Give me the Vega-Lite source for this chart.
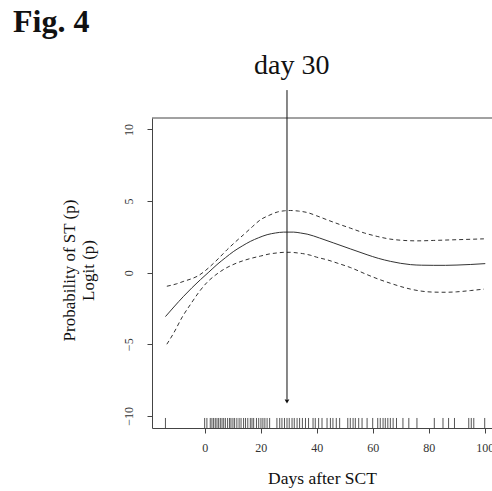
{
  "$schema": "https://vega.github.io/schema/vega-lite/v6.json",
  "width": 340,
  "height": 310,
  "autosize": {"type": "none"},
  "padding": {"left": 152, "top": 118, "right": 0, "bottom": 63},
  "background": "white",
  "config": {
    "view": {"stroke": null},
    "font": "Liberation Serif"
  },
  "title": {
    "text": "Fig. 4",
    "anchor": "start",
    "frame": "group",
    "font": "Liberation Serif",
    "fontSize": 32,
    "fontWeight": "bold",
    "color": "#111",
    "baseline": "alphabetic",
    "offset": -12,
    "dx": -139
  },
  "datasets": {
    "fit": [
      {"x": -14, "y": -3.07}, {"x": -11, "y": -2.4}, {"x": -7.5, "y": -1.65}, {"x": -4.5, "y": -1.05},
      {"x": -1.5, "y": -0.49}, {"x": 1.5, "y": 0.04}, {"x": 4.4, "y": 0.56}, {"x": 7.4, "y": 1.04},
      {"x": 10.4, "y": 1.49}, {"x": 13.4, "y": 1.86}, {"x": 16.3, "y": 2.18}, {"x": 19.3, "y": 2.44},
      {"x": 22.3, "y": 2.65}, {"x": 25.3, "y": 2.77}, {"x": 28.2, "y": 2.83}, {"x": 31.8, "y": 2.83},
      {"x": 34.2, "y": 2.77}, {"x": 36.6, "y": 2.69}, {"x": 41, "y": 2.42}, {"x": 46.1, "y": 2.07},
      {"x": 52, "y": 1.66}, {"x": 58, "y": 1.25}, {"x": 62, "y": 1.0}, {"x": 66.3, "y": 0.79},
      {"x": 70, "y": 0.65}, {"x": 73.5, "y": 0.56}, {"x": 77.5, "y": 0.52}, {"x": 81.8, "y": 0.51},
      {"x": 86, "y": 0.51}, {"x": 90.1, "y": 0.53}, {"x": 95, "y": 0.57}, {"x": 100.2, "y": 0.63}
    ],
    "bands": [
      {"band": "upper", "x": -13.5, "y": -0.95}, {"band": "upper", "x": -10, "y": -0.78},
      {"band": "upper", "x": -7.4, "y": -0.6}, {"band": "upper", "x": -5, "y": -0.45},
      {"band": "upper", "x": -2.7, "y": -0.26}, {"band": "upper", "x": 0, "y": 0.1},
      {"band": "upper", "x": 2, "y": 0.44}, {"band": "upper", "x": 5, "y": 1.0},
      {"band": "upper", "x": 8, "y": 1.6}, {"band": "upper", "x": 11, "y": 2.15},
      {"band": "upper", "x": 13.9, "y": 2.65}, {"band": "upper", "x": 17, "y": 3.2},
      {"band": "upper", "x": 19.9, "y": 3.69}, {"band": "upper", "x": 23, "y": 4.0},
      {"band": "upper", "x": 25.9, "y": 4.23}, {"band": "upper", "x": 28.5, "y": 4.32},
      {"band": "upper", "x": 30.6, "y": 4.34}, {"band": "upper", "x": 33.5, "y": 4.3},
      {"band": "upper", "x": 36.6, "y": 4.2}, {"band": "upper", "x": 40, "y": 3.97},
      {"band": "upper", "x": 43.7, "y": 3.69}, {"band": "upper", "x": 48, "y": 3.38},
      {"band": "upper", "x": 52, "y": 3.11}, {"band": "upper", "x": 57, "y": 2.77},
      {"band": "upper", "x": 61.6, "y": 2.53}, {"band": "upper", "x": 66, "y": 2.35},
      {"band": "upper", "x": 71.1, "y": 2.25}, {"band": "upper", "x": 76, "y": 2.22},
      {"band": "upper", "x": 81.8, "y": 2.25}, {"band": "upper", "x": 90, "y": 2.3},
      {"band": "upper", "x": 99.7, "y": 2.36},
      {"band": "lower", "x": -13.5, "y": -5.0}, {"band": "lower", "x": -11, "y": -4.2},
      {"band": "lower", "x": -8, "y": -3.1}, {"band": "lower", "x": -5, "y": -2.2},
      {"band": "lower", "x": -2, "y": -1.35}, {"band": "lower", "x": 1, "y": -0.65},
      {"band": "lower", "x": 4, "y": -0.15}, {"band": "lower", "x": 7, "y": 0.25},
      {"band": "lower", "x": 10, "y": 0.55}, {"band": "lower", "x": 14, "y": 0.85},
      {"band": "lower", "x": 17, "y": 1.02}, {"band": "lower", "x": 20, "y": 1.16},
      {"band": "lower", "x": 23, "y": 1.3}, {"band": "lower", "x": 26, "y": 1.38},
      {"band": "lower", "x": 28.5, "y": 1.42}, {"band": "lower", "x": 30.6, "y": 1.42},
      {"band": "lower", "x": 33, "y": 1.38}, {"band": "lower", "x": 35, "y": 1.33},
      {"band": "lower", "x": 37.7, "y": 1.22}, {"band": "lower", "x": 40, "y": 1.08},
      {"band": "lower", "x": 44, "y": 0.88}, {"band": "lower", "x": 47.3, "y": 0.67},
      {"band": "lower", "x": 52, "y": 0.36}, {"band": "lower", "x": 58, "y": -0.14},
      {"band": "lower", "x": 62, "y": -0.45}, {"band": "lower", "x": 66.3, "y": -0.74},
      {"band": "lower", "x": 70, "y": -0.97}, {"band": "lower", "x": 73.5, "y": -1.15},
      {"band": "lower", "x": 77, "y": -1.28}, {"band": "lower", "x": 81.8, "y": -1.36},
      {"band": "lower", "x": 86, "y": -1.37}, {"band": "lower", "x": 90, "y": -1.34},
      {"band": "lower", "x": 95, "y": -1.25}, {"band": "lower", "x": 99.7, "y": -1.15}
    ],
    "rug": [
      {"day": -14}, {"day": 0}, {"day": 0.8}, {"day": 2}, {"day": 2.6}, {"day": 3.2}, {"day": 3.8},
      {"day": 4.4}, {"day": 5}, {"day": 5.6}, {"day": 6.2}, {"day": 6.8}, {"day": 7.4}, {"day": 8.2},
      {"day": 8.9}, {"day": 9.4}, {"day": 10.1}, {"day": 10.7}, {"day": 11.5}, {"day": 12.3}, {"day": 13},
      {"day": 13.9}, {"day": 14.6}, {"day": 15.4}, {"day": 16.3}, {"day": 16.9}, {"day": 17.5}, {"day": 18.5},
      {"day": 19.3}, {"day": 20.1}, {"day": 20.8}, {"day": 21.5}, {"day": 22.3}, {"day": 23.2},
      {"day": 25.8}, {"day": 26.8}, {"day": 27.6}, {"day": 28.5}, {"day": 29.4}, {"day": 30.2}, {"day": 31.2},
      {"day": 32}, {"day": 33}, {"day": 33.9}, {"day": 34.9}, {"day": 36}, {"day": 37.1},
      {"day": 38.7}, {"day": 39.5}, {"day": 40.7}, {"day": 41.9},
      {"day": 43.7}, {"day": 44.9}, {"day": 45.8}, {"day": 47}, {"day": 48.2},
      {"day": 51.1}, {"day": 52}, {"day": 53}, {"day": 53.8}, {"day": 55}, {"day": 56.2},
      {"day": 58}, {"day": 60},
      {"day": 61.8}, {"day": 62.7}, {"day": 63.7}, {"day": 64.5}, {"day": 65.4}, {"day": 66.3}, {"day": 67.3}, {"day": 68.5},
      {"day": 70.8}, {"day": 72.9}, {"day": 75.8},
      {"day": 82}, {"day": 85.1}, {"day": 87.1}, {"day": 89.2},
      {"day": 94.3}, {"day": 95.2}, {"day": 96.1}, {"day": 100}
    ],
    "arrow": [{"x": 29.4, "top": 12.75, "bottom": -8.85, "tip": -9.0, "label": "day 30", "lx": 31.1, "ly": 13.87}]
  },
  "layer": [
    {
      "data": {"name": "rug"},
      "mark": {"type": "rule", "color": "#555", "strokeWidth": 1},
      "encoding": {
        "x": {
          "field": "day", "type": "quantitative",
          "scale": {"domain": [-18.8, 102.6], "nice": false, "zero": false},
          "axis": {
            "orient": "bottom",
            "values": [0, 20, 40, 60, 80, 100],
            "grid": false,
            "domainColor": "#444",
            "tickColor": "#444",
            "tickSize": 5,
            "labelFont": "Liberation Serif",
            "labelFontSize": 12,
            "labelColor": "#333",
            "labelPadding": 9.5,
            "title": "Days after SCT",
            "titleFont": "Liberation Serif",
            "titleFontSize": 17.5,
            "titleFontWeight": "normal",
            "titleColor": "#111",
            "titleBaseline": "alphabetic",
            "titleY": 55.5
          }
        },
        "y": {
          "datum": -10.85, "type": "quantitative",
          "scale": {"domain": [-10.85, 10.8], "nice": false, "zero": false},
          "axis": {
            "orient": "left",
            "values": [-10, -5, 0, 5, 10],
            "grid": false,
            "domainColor": "#444",
            "tickColor": "#444",
            "tickSize": 5,
            "labelFont": "Liberation Serif",
            "labelFontSize": 12,
            "labelColor": "#333",
            "labelAngle": 270,
            "labelAlign": "center",
            "labelBaseline": "middle",
            "labelPadding": 19,
            "title": ["Probability of ST (p)", "Logit (p)"],
            "titleFont": "Liberation Serif",
            "titleFontSize": 17,
            "titleFontWeight": "normal",
            "titleColor": "#111",
            "titleLineHeight": 19,
            "titleAngle": 270,
            "titleAlign": "center",
            "titleBaseline": "middle",
            "titleX": -83,
            "titleY": 152
          }
        },
        "y2": {"datum": -10.15}
      }
    },
    {
      "data": {"values": [{"x0": -18.8, "x1": 102.6, "y": 10.8}]},
      "mark": {"type": "rule", "color": "#444", "strokeWidth": 1},
      "encoding": {
        "x": {"field": "x0", "type": "quantitative"},
        "x2": {"field": "x1"},
        "y": {"field": "y", "type": "quantitative"}
      }
    },
    {
      "data": {"name": "bands"},
      "mark": {"type": "line", "color": "#333", "strokeWidth": 1, "strokeDash": [4, 3], "interpolate": "monotone"},
      "encoding": {
        "x": {"field": "x", "type": "quantitative"},
        "y": {"field": "y", "type": "quantitative"},
        "detail": {"field": "band"}
      }
    },
    {
      "data": {"name": "fit"},
      "mark": {"type": "line", "color": "#333", "strokeWidth": 1, "interpolate": "monotone"},
      "encoding": {
        "x": {"field": "x", "type": "quantitative"},
        "y": {"field": "y", "type": "quantitative"}
      }
    },
    {
      "data": {"name": "arrow"},
      "mark": {"type": "rule", "color": "#111", "strokeWidth": 1},
      "encoding": {
        "x": {"field": "x", "type": "quantitative"},
        "y": {"field": "top", "type": "quantitative"},
        "y2": {"field": "bottom"}
      }
    },
    {
      "data": {"name": "arrow"},
      "mark": {"type": "point", "shape": "triangle-down", "filled": true, "color": "#111", "size": 22, "opacity": 1},
      "encoding": {
        "x": {"field": "x", "type": "quantitative"},
        "y": {"field": "tip", "type": "quantitative"}
      }
    },
    {
      "data": {"name": "arrow"},
      "mark": {"type": "text", "font": "Liberation Serif", "fontSize": 28, "color": "#111", "align": "center", "baseline": "alphabetic"},
      "encoding": {
        "x": {"field": "lx", "type": "quantitative"},
        "y": {"field": "ly", "type": "quantitative"},
        "text": {"field": "label"}
      }
    }
  ]
}
